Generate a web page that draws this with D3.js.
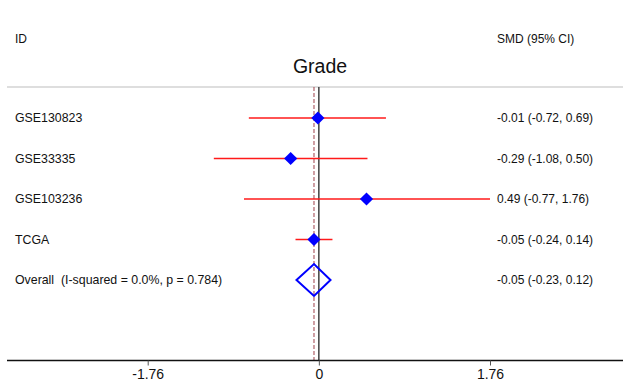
<!DOCTYPE html>
<html>
<head>
<meta charset="utf-8">
<script src="https://cdn.jsdelivr.net/npm/d3@7"></script>
<style>
  body { margin: 0; background: #fff; }
  svg { display: block; font-family: "Liberation Sans", Arial, sans-serif; }
  text { white-space: pre; }
</style>
</head>
<body>
<svg id="chart" width="623" height="385"></svg>
<script>
// study rows
var studies = ['GSE130823', 'GSE33335', 'GSE103236', 'TCGA'];
var smd     = [-0.01, -0.29, 0.49, -0.05];
var lower   = [-0.72, -1.08, -0.77, -0.24];
var upper   = [0.69, 0.50, 1.76, 0.14];

// pooled estimate
var overallLabel = 'Overall  (I-squared = 0.0%, p = 0.784)';
var overallEst = [-0.05];
var overallLo  = [-0.23];
var overallHi  = [0.12];

var tickValues = [-1.76, 0, 1.76];

var width = 623;
var height = 385;

var svg = d3.select('#chart');

var x = d3.scaleLinear().domain([-1.76, 1.76]).range([147.7, 490]);
var y = d3.scalePoint().domain(d3.range(studies.length + 1)).range([118, 280]);

var plotTop = 87;
var plotBottom = 360.5;

// plain hyphen, not the unicode minus d3 uses
function fmt(v) { return v.toFixed(2); }

// header
svg.append('text').attr('x', 15).attr('y', 42.5)
  .attr('font-size', 12).attr('fill', '#111').text('ID');
svg.append('text').attr('x', 497).attr('y', 42.5)
  .attr('font-size', 12).attr('fill', '#111').text('SMD (95% CI)');
svg.append('text').attr('x', 320).attr('y', 73.3)
  .attr('text-anchor', 'middle').attr('font-size', 19.5).attr('fill', '#111').text('Grade');

// top rule
svg.append('line')
  .attr('x1', 7).attr('x2', width).attr('y1', plotTop).attr('y2', plotTop)
  .attr('stroke', '#bdbdbd').attr('stroke-width', 1.2);

// no-effect line
svg.append('line')
  .attr('x1', x(0)).attr('x2', x(0)).attr('y1', plotTop).attr('y2', plotBottom)
  .attr('stroke', '#333').attr('stroke-width', 1.4);

// overall estimate line
svg.append('line')
  .attr('x1', x(overallEst[0])).attr('x2', x(overallEst[0]))
  .attr('y1', plotTop).attr('y2', plotBottom)
  .attr('stroke', '#a0404a').attr('stroke-width', 1)
  .attr('stroke-dasharray', '4,2');

// CI lines
var rows = studies.map(function(s, i) {
  return { name: s, est: smd[i], lo: lower[i], hi: upper[i], i: i };
});

svg.selectAll('.ci').data(rows).enter().append('line')
  .attr('class', 'ci')
  .attr('x1', function(d) { return x(d.lo); })
  .attr('x2', function(d) { return x(d.hi); })
  .attr('y1', function(d) { return y(d.i); })
  .attr('y2', function(d) { return y(d.i); })
  .attr('stroke', '#ff1a1a').attr('stroke-width', 1.6);

// point estimates
var r = 6.6;
svg.selectAll('.pt').data(rows).enter().append('path')
  .attr('class', 'pt')
  .attr('d', function(d) {
    var cx = x(d.est), cy = y(d.i);
    return 'M' + cx + ',' + (cy - r) + 'L' + (cx + r) + ',' + cy +
           'L' + cx + ',' + (cy + r) + 'L' + (cx - r) + ',' + cy + 'Z';
  })
  .attr('fill', '#0000ff');

// row labels
svg.selectAll('.lab').data(rows).enter().append('text')
  .attr('class', 'lab')
  .attr('x', 15).attr('y', function(d) { return y(d.i) + 4.3; })
  .attr('font-size', 12.35).attr('fill', '#111')
  .text(function(d) { return d.name; });

svg.selectAll('.val').data(rows).enter().append('text')
  .attr('class', 'val')
  .attr('x', 497).attr('y', function(d) { return y(d.i) + 4.2; })
  .attr('font-size', 12).attr('fill', '#111')
  .text(function(d) { return fmt(d.est) + ' (' + fmt(d.lo) + ', ' + fmt(d.hi) + ')'; });

// overall diamond
var oy = y(studies.length);
var dh = 16;
svg.append('path')
  .attr('d', 'M' + x(overallLo[0]) + ',' + oy +
             'L' + x(overallEst[0]) + ',' + (oy - dh) +
             'L' + x(overallHi[0]) + ',' + oy +
             'L' + x(overallEst[0]) + ',' + (oy + dh) + 'Z')
  .attr('fill', 'none').attr('stroke', '#0000ff').attr('stroke-width', 2);

svg.append('text').attr('x', 15).attr('y', oy + 4.3)
  .attr('font-size', 12.35).attr('fill', '#111').text(overallLabel);
svg.append('text').attr('x', 497).attr('y', oy + 4.2)
  .attr('font-size', 12).attr('fill', '#111')
  .text(fmt(overallEst[0]) + ' (' + fmt(overallLo[0]) + ', ' + fmt(overallHi[0]) + ')');

// x axis
var axis = d3.axisBottom(x).tickValues(tickValues).tickSize(5).tickSizeOuter(0)
  .tickFormat(function(d) { return d === 0 ? '0' : fmt(d); });
var gx = svg.append('g').attr('transform', 'translate(0,' + plotBottom + ')').call(axis);
gx.select('.domain').remove();
gx.insert('line', ':first-child')
  .attr('x1', 7).attr('x2', width).attr('y1', 0).attr('y2', 0)
  .attr('stroke', '#111').attr('stroke-width', 1.5);
gx.selectAll('.tick line').attr('stroke', '#555');
gx.selectAll('.tick text')
  .attr('font-size', 14).attr('font-family', '"Liberation Sans", Arial, sans-serif')
  .attr('fill', '#111').attr('dy', '0.71em').attr('y', 8.5);
</script>
</body>
</html>
